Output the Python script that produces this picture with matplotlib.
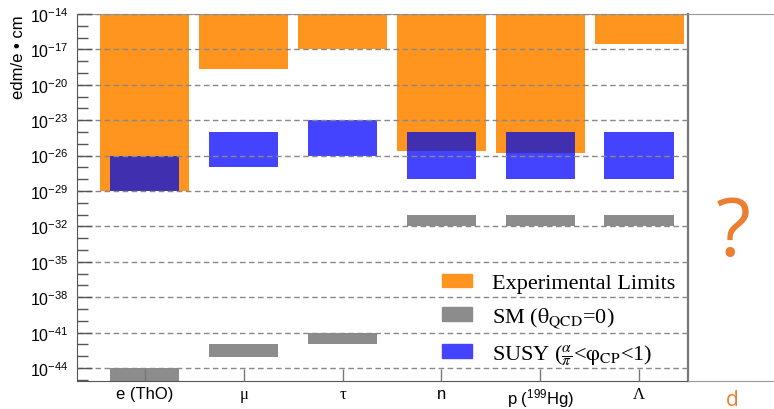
import matplotlib.pyplot as plt
import numpy as np
from matplotlib.patches import Patch
from matplotlib.font_manager import FontProperties
from matplotlib.ticker import FixedLocator, NullFormatter

plt.rcParams['mathtext.fontset'] = 'custom'
plt.rcParams['mathtext.rm'] = 'Liberation Sans'
plt.rcParams['mathtext.it'] = 'Liberation Sans:italic'

# data (edm limits / predictions, e*cm)
particles = ['e (ThO)', 'μ', 'τ', 'n', r'p ($^{199}$Hg)', 'Λ']
exp_hi = [1e-14, 1e-14, 1e-14, 1e-14, 1e-14, 1e-14]
exp_lo = [1e-29, 2e-19, 1e-17, 2.6e-26, 1.6e-26, 3e-17]
susy_hi = [1e-26, 1e-24, 1e-23, 1e-24, 1e-24, 1e-24]
susy_lo = [1e-29, 1e-27, 1e-26, 1e-28, 1e-28, 1e-28]
sm_hi = [1e-44, 1e-42, 1e-41, 1e-31, 1e-31, 1e-31]
sm_lo = [1e-46, 8e-44, 1e-42, 1e-32, 1e-32, 1e-32]

orange = '#ff951e'
blue = '#4444ff'
purple = '#4030b0'
gray = '#8c8c8c'

fig = plt.figure(figsize=(7.74, 4.10), dpi=100)
ax = fig.add_axes([77/774, 1 - 381.7/410, (688-77)/774, (381.7-15)/410])

x = np.arange(len(particles))
exp_lo = np.array(exp_lo); exp_hi = np.array(exp_hi)
susy_lo = np.array(susy_lo); susy_hi = np.array(susy_hi)

ax.bar(x, exp_hi - exp_lo, bottom=exp_lo, width=0.9, color=orange, zorder=1)
ax.bar(x, susy_hi - susy_lo, bottom=susy_lo, width=0.7, color=blue, zorder=1)
# where the SUSY band sits inside the experimental band it shows darker
ov_lo = np.maximum(exp_lo, susy_lo)
ov_hi = np.minimum(exp_hi, susy_hi)
ok = ov_hi > ov_lo
ax.bar(x[ok], (ov_hi - ov_lo)[ok], bottom=ov_lo[ok], width=0.7, color=purple, zorder=1)
ax.bar(x, np.array(sm_hi) - np.array(sm_lo), bottom=sm_lo, width=0.7, color=gray, zorder=1)

ax.set_yscale('log')
ax.set_ylim(10**-45.07, 1e-14)
ax.set_xlim(-0.687, 5.495)

majors = [10.0**p for p in range(-44, -13, 3)]
ax.yaxis.set_major_locator(FixedLocator(majors))
ax.yaxis.set_minor_locator(FixedLocator([10.0**p for p in range(-45, -13)]))
ax.yaxis.set_minor_formatter(NullFormatter())
ax.set_yticklabels([r'$10^{%d}$' % p for p in range(-44, -13, 3)])
ax.tick_params(axis='y', which='major', direction='in', length=11, width=1,
               color='#555555', labelsize=11.5, pad=6)
ax.tick_params(axis='y', which='minor', direction='in', length=8, width=1,
               color='#555555')
ax.set_xticks(x)
ax.set_xticklabels(particles)
ax.tick_params(axis='x', direction='in', length=9, width=1, color='#777777',
               labelsize=12, pad=4)
for i, lab in enumerate(ax.get_xticklabels()):
    lab.set_fontfamily('Liberation Serif' if i in (1, 2, 5) else 'Liberation Sans')
for lab in ax.get_yticklabels():
    lab.set_fontfamily('Liberation Sans')

ax.yaxis.grid(True, which='major', color='#888888', linestyle=(0, (4, 2.5)), linewidth=1)
ax.set_axisbelow(False)

ax.set_ylabel('edm/e • cm', fontsize=12, family='Liberation Sans')
ax.yaxis.set_label_coords(-0.083, 1.0)
ax.yaxis.label.set_ha('right')

for s in ['left', 'bottom']:
    ax.spines[s].set_color('#555555')
ax.spines['top'].set_color('#999999')
ax.spines['right'].set_color('#777777')
ax.spines['right'].set_linewidth(1.6)

handles = [Patch(color=orange), Patch(color=gray), Patch(color=blue)]
labels = ['Experimental Limits', r'SM ($\mathrm{\theta_{QCD}}$=0)',
          r'SUSY ($\frac{\alpha}{\pi}$<$\mathrm{\varphi_{CP}}$<1)']
prop = FontProperties(family='Liberation Serif', size=16, math_fontfamily='stix')
ax.legend(handles, labels, loc='center left', bbox_to_anchor=(0.597, 0.165),
          frameon=False, prop=prop, handlelength=1.35, handleheight=0.55,
          handletextpad=0.9, labelspacing=0.56, borderpad=0, borderaxespad=0)

# extra empty column for the deuteron
ax2 = fig.add_axes([688/774, 1 - 381.7/410, (774-688)/774, (381.7-15)/410])
ax2.set_xticks([]); ax2.set_yticks([])
ax2.spines['left'].set_visible(False)
ax2.spines['right'].set_visible(False)
ax2.spines['top'].set_color('#999999')
ax2.spines['bottom'].set_color('#999999')
ax2.patch.set_alpha(0)
ax2.text(0.52, 0.40, '?', transform=ax2.transAxes, ha='center', va='center',
         fontsize=58, color='#ed7d31', family='Open Sans')
ax2.text(0.52, -0.05, 'd', transform=ax2.transAxes, ha='center', va='center',
         fontsize=15, color='#ed7d31', family='Open Sans')

fig.savefig('out.png', dpi=100)
